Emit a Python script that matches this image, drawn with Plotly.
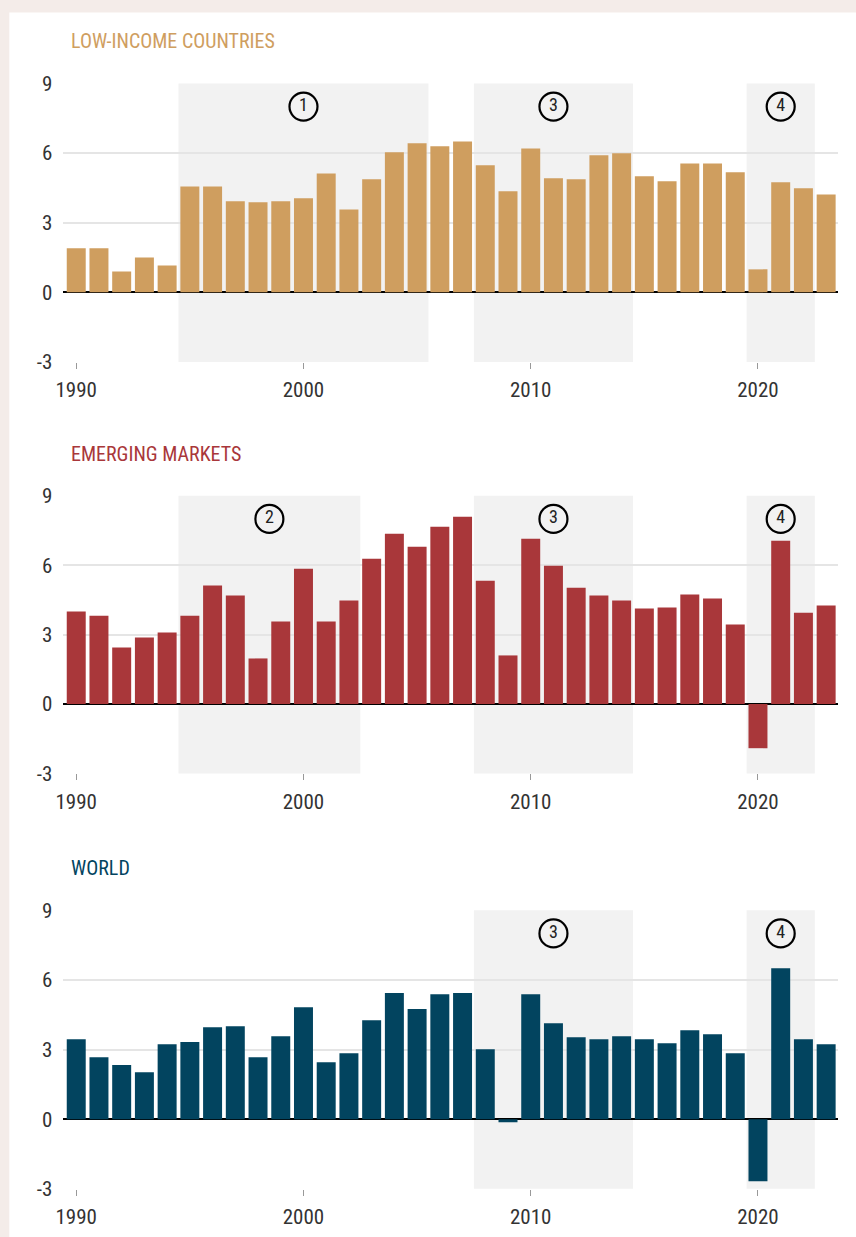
import plotly.graph_objects as go

years = list(range(1990, 2024))

low_income = [1.9, 1.9, 0.9, 1.5, 1.16, 4.56, 4.56, 3.92, 3.88, 3.92,
              4.05, 5.12, 3.57, 4.87, 6.03, 6.42, 6.29, 6.5, 5.47, 4.35,
              6.2, 4.91, 4.87, 5.9, 5.99, 5.0, 4.78, 5.55, 5.55, 5.17,
              0.99, 4.74, 4.48, 4.22]

emerging = [4.0, 3.82, 2.44, 2.88, 3.09, 3.82, 5.12, 4.69, 1.97, 3.57,
            5.85, 3.57, 4.47, 6.28, 7.36, 6.8, 7.66, 8.09, 5.33, 2.1,
            7.14, 5.98, 5.03, 4.69, 4.47, 4.13, 4.17, 4.73, 4.56, 3.44,
            -1.91, 7.06, 3.95, 4.26]

world = [3.44, 2.67, 2.33, 2.02, 3.23, 3.32, 3.96, 4.0, 2.67, 3.57,
         4.82, 2.45, 2.84, 4.26, 5.43, 4.74, 5.38, 5.43, 3.01, -0.13,
         5.38, 4.13, 3.53, 3.44, 3.57, 3.44, 3.27, 3.83, 3.66, 2.84,
         -2.67, 6.5, 3.44, 3.23]

panel_titles = ["LOW-INCOME COUNTRIES", "EMERGING MARKETS", "WORLD"]
panel_colors = ["#cf9e5f", "#a9373a", "#02445f"]
panel_values = [low_income, emerging, world]

# shaded periods per panel
region_start = [[1994.5, 2007.5, 2019.5], [1994.5, 2007.5, 2019.5], [2007.5, 2019.5]]
region_end = [[2005.5, 2014.5, 2022.5], [2002.5, 2014.5, 2022.5], [2014.5, 2022.5]]
region_label = [["1", "3", "4"], ["2", "3", "4"], ["3", "4"]]
marker_level = 8

y_ticks = [-3, 0, 3, 6, 9]
y_tick_text = ["-3", "0", "3", "6", "9"]
x_ticks = [1990, 2000, 2010, 2020]

W, H = 856, 1237
FONT = "Roboto Condensed, Liberation Sans Narrow, DejaVu Sans Condensed, Roboto, sans-serif"
PINK = "#f4ece9"

# compensation for the capture transform observed (screen = s * fig + o)
SX, OX = 0.991, 6.7
SY, OY = 0.982, 11.5


def fx(px):
    return (px - OX) / SX / W


def fy(py):
    return 1 - (py - OY) / SY / H


# target pixel geometry of each panel (top, bottom of plot area) and title centre
plot_top = [83, 496, 911]
plot_bot = [362, 774, 1190]
title_y = [41, 454, 869]
x_left, x_right = 62, 836.5

fig = go.Figure()
shapes = [dict(type="rect", xref="paper", yref="paper", x0=fx(8), x1=1.01, y0=-0.01, y1=fy(12),
               fillcolor="white", line=dict(width=0), layer="below")]
annotations = []

for i in range(3):
    n = "" if i == 0 else str(i + 1)
    xa, ya = "x" + n, "y" + n
    fig.add_trace(go.Bar(x=years, y=panel_values[i], marker=dict(color=panel_colors[i], line=dict(width=0)),
                         xaxis=xa, yaxis=ya, showlegend=False, hoverinfo="x+y"))
    centers = [(s + e) / 2 for s, e in zip(region_start[i], region_end[i])]
    fig.add_trace(go.Scatter(x=centers, y=[marker_level] * len(centers), mode="markers+text",
                             text=region_label[i], textposition="middle center",
                             textfont=dict(family=FONT, size=18, color="#222"),
                             marker=dict(symbol="circle", size=28, color="rgba(0,0,0,0)",
                                         line=dict(color="black", width=2.2)),
                             xaxis=xa, yaxis=ya, showlegend=False, hoverinfo="skip", cliponaxis=False))
    for s, e in zip(region_start[i], region_end[i]):
        shapes.append(dict(type="rect", xref=xa, yref=ya + " domain", x0=s, x1=e, y0=0, y1=1,
                           fillcolor="#f2f2f2", line=dict(width=0), layer="below"))
    fig.layout["xaxis" + n] = dict(domain=[fx(x_left), fx(x_right)], range=[1989.43, 2023.5],
                                   anchor=ya, tickvals=x_ticks, ticks="outside", ticklen=6,
                                   tickcolor="#999", tickwidth=1, showgrid=False, zeroline=False,
                                   showline=False, ticklabelstandoff=3,
                                   tickfont=dict(family=FONT, size=21, color="#333"),
                                   fixedrange=True)
    fig.layout["yaxis" + n] = dict(domain=[fy(plot_bot[i]), fy(plot_top[i])], range=[-3, 9], anchor=xa,
                                   tickvals=y_ticks, ticktext=y_tick_text,
                                   showgrid=True, gridcolor="#e5e5e5", gridwidth=1.5,
                                   zeroline=True, zerolinecolor="black", zerolinewidth=2,
                                   ticks="", ticklabelstandoff=10,
                                   tickfont=dict(family=FONT, size=21, color="#333"), fixedrange=True)
    annotations.append(dict(text=panel_titles[i], xref="paper", yref="paper", x=fx(68),
                            y=fy(title_y[i]), xanchor="left", yanchor="middle", showarrow=False,
                            font=dict(family=FONT, size=20, color=panel_colors[i])))

fig.update_layout(width=W, height=H, margin=dict(l=0, r=0, t=0, b=0),
                  paper_bgcolor=PINK, plot_bgcolor="rgba(0,0,0,0)",
                  bargap=0.165, shapes=shapes, annotations=annotations,
                  font=dict(family=FONT))

post = ("var d=document.documentElement,b=document.body;"
        "b.style.margin='0';b.style.padding='0';"
        "d.style.background='linear-gradient(to right, " + PINK + " 14px, rgba(0,0,0,0) 14px), "
        "linear-gradient(to bottom, " + PINK + " 30px, #ffffff 30px)';"
        "b.style.background='transparent';")

fig.write_html("out.html", config={"displayModeBar": False}, post_script=post)
